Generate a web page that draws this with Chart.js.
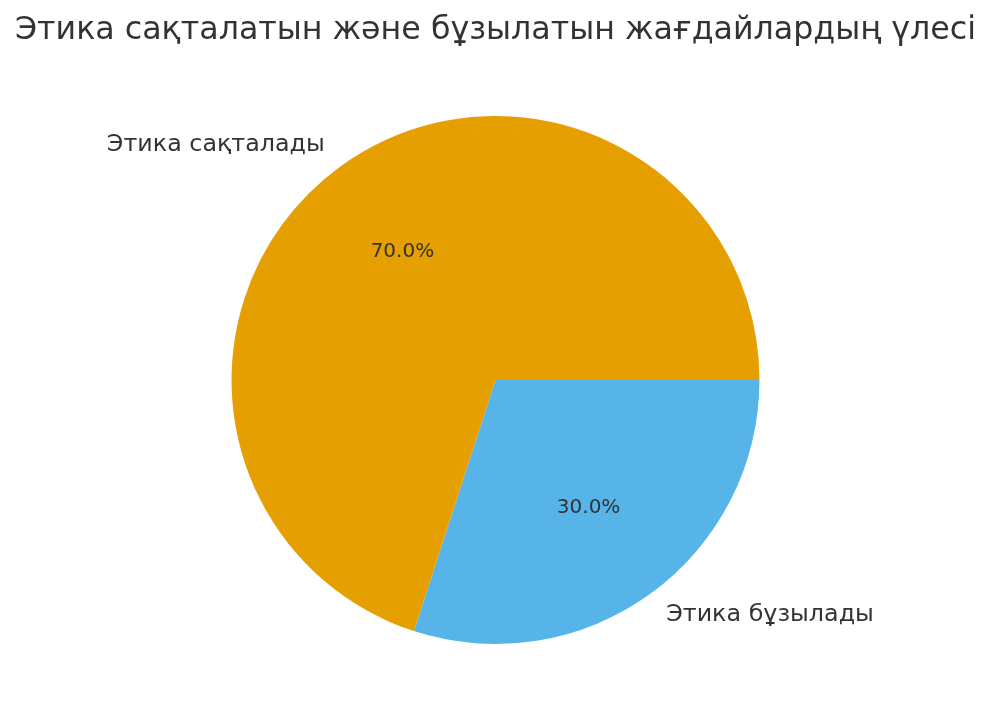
<!DOCTYPE html>
<html>
<head>
<meta charset="utf-8">
<script src="https://cdn.jsdelivr.net/npm/chart.js@4"></script>
<style>
  html, body { margin: 0; padding: 0; background: #fff; }
  #wrap { width: 991px; height: 725px; }
</style>
</head>
<body>
<div id="wrap"><canvas id="pie"></canvas></div>
<script>
// данные (порядок: по часовой стрелке от 3 часов)
const labels = ["Этика бұзылады", "Этика сақталады"];
const values = [30, 70];
const colors = ["#56B4E9", "#E69F00"];

const TEXT = "#333333";

// подписи как в matplotlib: название на 1.1r, процент на 0.6r
const pieLabels = {
  id: "pieLabels",
  afterDatasetsDraw(chart) {
    const ctx = chart.ctx;
    const meta = chart.getDatasetMeta(0);
    const total = values.reduce((a, b) => a + b, 0);
    ctx.save();
    ctx.fillStyle = TEXT;
    meta.data.forEach((arc, i) => {
      const { x, y, startAngle, endAngle, outerRadius } = arc.getProps(
        ["x", "y", "startAngle", "endAngle", "outerRadius"], true);
      const mid = (startAngle + endAngle) / 2;
      const cos = Math.cos(mid), sin = Math.sin(mid);

      ctx.font = "23.8px 'DejaVu Sans'";
      ctx.textBaseline = "middle";
      ctx.textAlign = cos < 0 ? "right" : "left";
      ctx.fillText(labels[i], x + cos * outerRadius * 1.1, y + sin * outerRadius * 1.1);

      ctx.font = "20px 'DejaVu Sans'";
      ctx.textAlign = "center";
      const pct = (values[i] / total * 100).toFixed(1) + "%";
      ctx.fillText(pct, x + cos * outerRadius * 0.6, y + sin * outerRadius * 0.6);
    });
    ctx.restore();
  }
};

new Chart(document.getElementById("pie"), {
  type: "pie",
  data: {
    labels,
    datasets: [{
      data: values,
      backgroundColor: colors,
      borderWidth: 0,
    }],
  },
  options: {
    responsive: true,
    maintainAspectRatio: false,
    animation: false,
    rotation: 90,
    layout: { padding: { top: 0, bottom: 81 } },
    plugins: {
      legend: { display: false },
      tooltip: { enabled: false },
      title: {
        display: true,
        text: "Этика сақталатын және бұзылатын жағдайлардың үлесі",
        color: TEXT,
        font: { family: "DejaVu Sans", size: 31.7, weight: "normal" },
        padding: { top: 12, bottom: 66 },
      },
    },
  },
  plugins: [pieLabels],
});
</script>
</body>
</html>
